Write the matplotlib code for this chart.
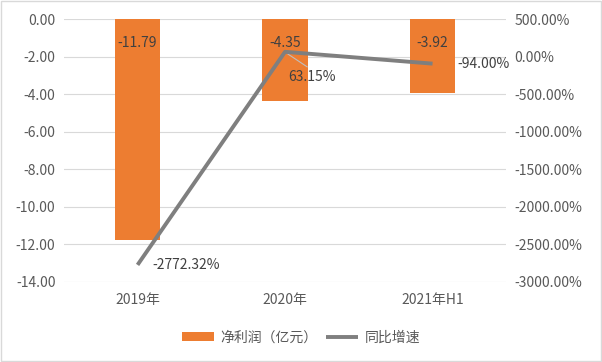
import matplotlib.pyplot as plt
from matplotlib.patches import Rectangle

plt.rcParams['font.family'] = ['Noto Sans CJK SC', 'DejaVu Sans']
plt.rcParams['font.weight'] = 'light'

categories = ["2019年", "2020年", "2021年H1"]
net_profit = [-11.79, -4.35, -3.92]
yoy_growth = [-2772.32, 63.15, -94.00]

orange = "#ED7D31"
grey = "#7F7F7F"
text_c = "#595959"

fig = plt.figure(figsize=(6.02, 3.62), dpi=100)
ax = fig.add_axes([0.106, 0.221, 0.735, 0.7265])
ax2 = ax.twinx()

x = list(range(len(categories)))
bars = ax.bar(x, net_profit, width=0.31, color=orange, zorder=2, label="净利润（亿元）")
ax.set_ylim(-14, 0)
ax.set_yticks([0, -2, -4, -6, -8, -10, -12, -14])
ax.set_yticklabels([f"{v:.2f}" for v in ax.get_yticks()])
ax.set_xlim(-0.5, 2.5)
ax.set_xticks(x)
ax.set_xticklabels(categories)
ax.grid(axis="y", color="#D9D9D9", linewidth=0.8, zorder=0)
ax.set_axisbelow(True)

line, = ax2.plot(x, yoy_growth, color=grey, linewidth=2.8, zorder=3, label="同比增速",
                 solid_capstyle="butt")
ax2.set_ylim(-3000, 500)
ax2.set_yticks(range(500, -3001, -500))
ax2.set_yticklabels([f"{v:.2f}%" for v in range(500, -3001, -500)])

for a in (ax, ax2):
    for s in a.spines.values():
        s.set_visible(False)
    a.tick_params(length=0, labelsize=10, colors=text_c)
ax.tick_params(axis="x", pad=8)
ax.tick_params(axis="y", pad=6)
ax2.tick_params(axis="y", pad=6)

# bar labels
for xi, v in zip(x, net_profit):
    ax.annotate(f"{v:.2f}", (xi, 0), xytext=(0, -17), textcoords="offset points",
                ha="center", va="center", fontsize=10, color="#404040", zorder=4)

# line labels
ax2.annotate(f"{yoy_growth[0]:.2f}%", (x[0], yoy_growth[0]), xytext=(11, 0),
             textcoords="offset points", ha="left", va="center", fontsize=10, color="#404040")
ax2.annotate(f"{yoy_growth[1]:.2f}%", (x[1], yoy_growth[1]), xytext=(2, -18),
             textcoords="offset points", ha="left", va="center", fontsize=10, color="#404040")
ax2.plot([x[1] + 0.02, x[1] + 0.15], [yoy_growth[1] - 30, yoy_growth[1] - 200],
         color="#BFBFBF", linewidth=0.8, zorder=2)
ax2.annotate(f"{yoy_growth[2]:.2f}%", (x[2], yoy_growth[2]), xytext=(18, 0),
             textcoords="offset points", ha="left", va="center", fontsize=10, color="#404040")

fig.legend([bars, line], ["净利润（亿元）", "同比增速"], loc="center",
           bbox_to_anchor=(0.5, 0.068), ncol=2, frameon=False, fontsize=10,
           labelcolor=text_c, handlelength=2.3, handletextpad=0.5, columnspacing=0.6)

fig.patches.append(Rectangle((0.002, 0.003), 0.996, 0.994, transform=fig.transFigure,
                             fill=False, edgecolor="#D9D9D9", linewidth=1))

fig.savefig("out.png", dpi=100)
